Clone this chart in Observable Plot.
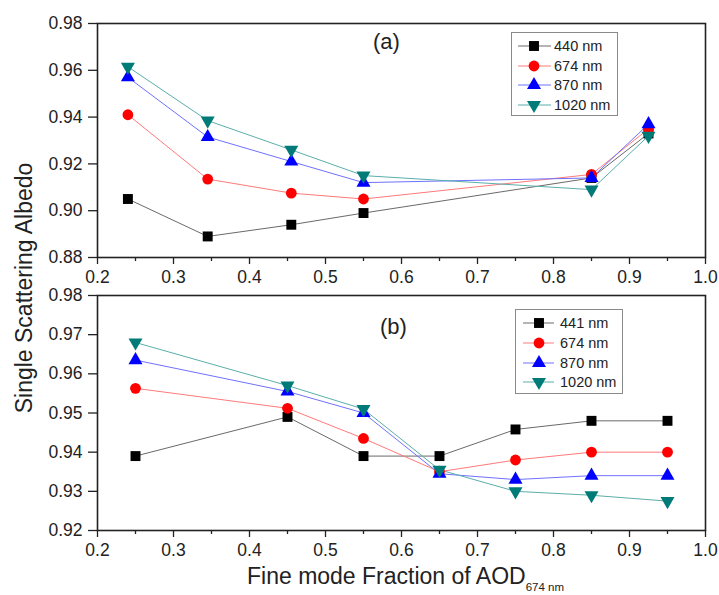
<!DOCTYPE html>
<html><head><meta charset="utf-8">
<script src="https://cdn.jsdelivr.net/npm/d3@7"></script>
<script src="https://cdn.jsdelivr.net/npm/@observablehq/plot@0.6"></script>
<style>
body{margin:0;background:#fff;font-family:"Liberation Sans",Arial,sans-serif;}
#wrap{position:relative;width:719px;height:595px;overflow:hidden;background:#fff;}
.abs{position:absolute;}
.leg{position:absolute;border:1px solid #8a8a8a;background:#fff;}
.row{position:absolute;left:0;height:18px;}
.row span{position:absolute;font-size:14.5px;color:#222;white-space:nowrap;line-height:18px;top:0;}
</style></head>
<body><div id="wrap"></div>
<script>
// ---- data ----
const xA = [0.24, 0.345, 0.455, 0.55, 0.85, 0.925];
const a440 = [0.905, 0.889, 0.894, 0.899, 0.914, 0.933];
const a674 = [0.941, 0.9135, 0.9075, 0.905, 0.9155, 0.935];
const a870 = [0.957, 0.9315, 0.921, 0.912, 0.914, 0.937];
const a1020 = [0.9615, 0.9385, 0.926, 0.915, 0.909, 0.932];

const xB = [0.25, 0.45, 0.55, 0.65, 0.75, 0.85, 0.95];
const b441 = [0.939, 0.949, 0.939, 0.939, 0.9458, 0.948, 0.948];
const b674 = [0.9563, 0.9512, 0.9435, 0.935, 0.938, 0.940, 0.940];
const b870 = [0.9635, 0.9555, 0.950, 0.9345, 0.933, 0.934, 0.934];
const b1020 = [0.968, 0.957, 0.951, 0.9355, 0.930, 0.929, 0.9275];

const labelsA = ["440 nm", "674 nm", "870 nm", "1020 nm"];
const labelsB = ["441 nm", "674 nm", "870 nm", "1020 nm"];
const xTicks = [0.2, 0.3, 0.4, 0.5, 0.6, 0.7, 0.8, 0.9, 1.0];
const xMinor = [0.25, 0.35, 0.45, 0.55, 0.65, 0.75, 0.85, 0.95];
const yTicksA = [0.88, 0.90, 0.92, 0.94, 0.96, 0.98];
const yTicksB = [0.92, 0.93, 0.94, 0.95, 0.96, 0.97, 0.98];

const styles = [
  {symbol: "square", fill: "#000000", line: "#6a6a6a", r: 5.6, rotate: 0},
  {symbol: "circle", fill: "#ff0000", line: "#ff7a7a", r: 5.4, rotate: 0},
  {symbol: "triangle", fill: "#0000ff", line: "#7070ff", r: 5.2, rotate: 0},
  {symbol: "triangle", fill: "#007b78", line: "#5aaeaa", r: 5.2, rotate: 180}
];

const FONT = '"Liberation Sans", Arial, sans-serif';
const wrap = document.getElementById("wrap");

function panel(xs, series, yDomain, yTicks, top, height, mt, mb) {
  const marks = [];
  series.forEach((ys, i) => {
    const data = xs.map((x, j) => ({x, y: ys[j]}));
    const s = styles[i];
    marks.push(Plot.line(data, {x: "x", y: "y", stroke: s.line, strokeWidth: 1}));
  });
  series.forEach((ys, i) => {
    const data = xs.map((x, j) => ({x, y: ys[j]}));
    const s = styles[i];
    marks.push(Plot.dot(data, {x: "x", y: "y", symbol: s.symbol, fill: s.fill, r: s.r, rotate: s.rotate, stroke: "none"}));
  });
  const p = Plot.plot({
    width: 719, height,
    marginLeft: 97, marginRight: 14, marginTop: mt, marginBottom: mb,
    x: {domain: [0.2, 1.0]},
    y: {domain: yDomain},
    style: {fontFamily: FONT, fontSize: "17.5px", color: "#222", background: "transparent", overflow: "visible"},
    marks: [
      Plot.axisX({ticks: xMinor, tickSize: 4, tickFormat: () => "", label: null, strokeWidth: 1.3}),
      Plot.axisX({ticks: xTicks, tickSize: 7, tickPadding: 6, tickFormat: d3.format(".1f"), label: null, strokeWidth: 1.3}),
      Plot.axisY({ticks: yTicks, tickSize: 9, tickPadding: 6, tickFormat: d3.format(".2f"), label: null, strokeWidth: 1.3}),
      ...marks,
      Plot.frame({stroke: "#222", strokeWidth: 1.6})
    ]
  });
  p.style.position = "absolute";
  p.style.left = "0px";
  p.style.top = top + "px";
  wrap.appendChild(p);
}

panel(xA, [a440, a674, a870, a1020], [0.88, 0.98], yTicksA, 0, 285, 23, 28);
panel(xB, [b441, b674, b870, b1020], [0.92, 0.98], yTicksB, 280, 315, 15, 65);

function legend(labels, left, top, w, h, rowTops, lineX0, lineX1, markX, textX) {
  const box = document.createElement("div");
  box.className = "leg";
  box.style.left = left + "px"; box.style.top = top + "px";
  box.style.width = w + "px"; box.style.height = h + "px";
  labels.forEach((lab, i) => {
    const s = styles[i];
    const row = document.createElement("div");
    row.className = "row";
    row.style.top = (rowTops[i] - top - 9) + "px";
    row.style.width = w + "px";
    const sym = d3.symbol().type(s.symbol === "square" ? d3.symbolSquare : s.symbol === "circle" ? d3.symbolCircle : d3.symbolTriangle).size(Math.PI * s.r * s.r)();
    row.innerHTML = `<svg width="${w}" height="18" style="position:absolute;left:0;top:0;overflow:visible">
      <line x1="${lineX0 - left}" x2="${lineX1 - left}" y1="9" y2="9" stroke="${s.line}" stroke-width="1"/>
      <path d="${sym}" fill="${s.fill}" transform="translate(${markX - left},9) rotate(${s.rotate})"/>
    </svg><span style="left:${textX - left}px">${lab}</span>`;
    box.appendChild(row);
  });
  wrap.appendChild(box);
}
legend(labelsA, 511, 32, 105, 82, [45, 64.5, 84, 104], 517, 550, 533, 553);
legend(labelsB, 515, 309, 106, 83, [322, 342, 361.5, 381], 522, 553, 538, 559);

function addText(txt, left, top, size, extra) {
  const d = document.createElement("div");
  d.className = "abs";
  d.style.left = left + "px"; d.style.top = top + "px";
  d.style.fontSize = size + "px"; d.style.color = "#222"; d.style.whiteSpace = "nowrap";
  d.style.lineHeight = "1";
  if (extra) Object.assign(d.style, extra);
  d.innerHTML = txt;
  wrap.appendChild(d);
  return d;
}
addText("(a)", 373, 31, 22);
addText("(b)", 380, 316, 22);
addText("Fine mode Fraction of AOD<sub style='font-size:11.5px;vertical-align:-7px'>674 nm</sub>", 247, 565, 23);
addText("Single Scattering Albedo", 24, 288, 23, {transform: "translate(-50%,-50%) rotate(-90deg)"});
</script></body></html>
